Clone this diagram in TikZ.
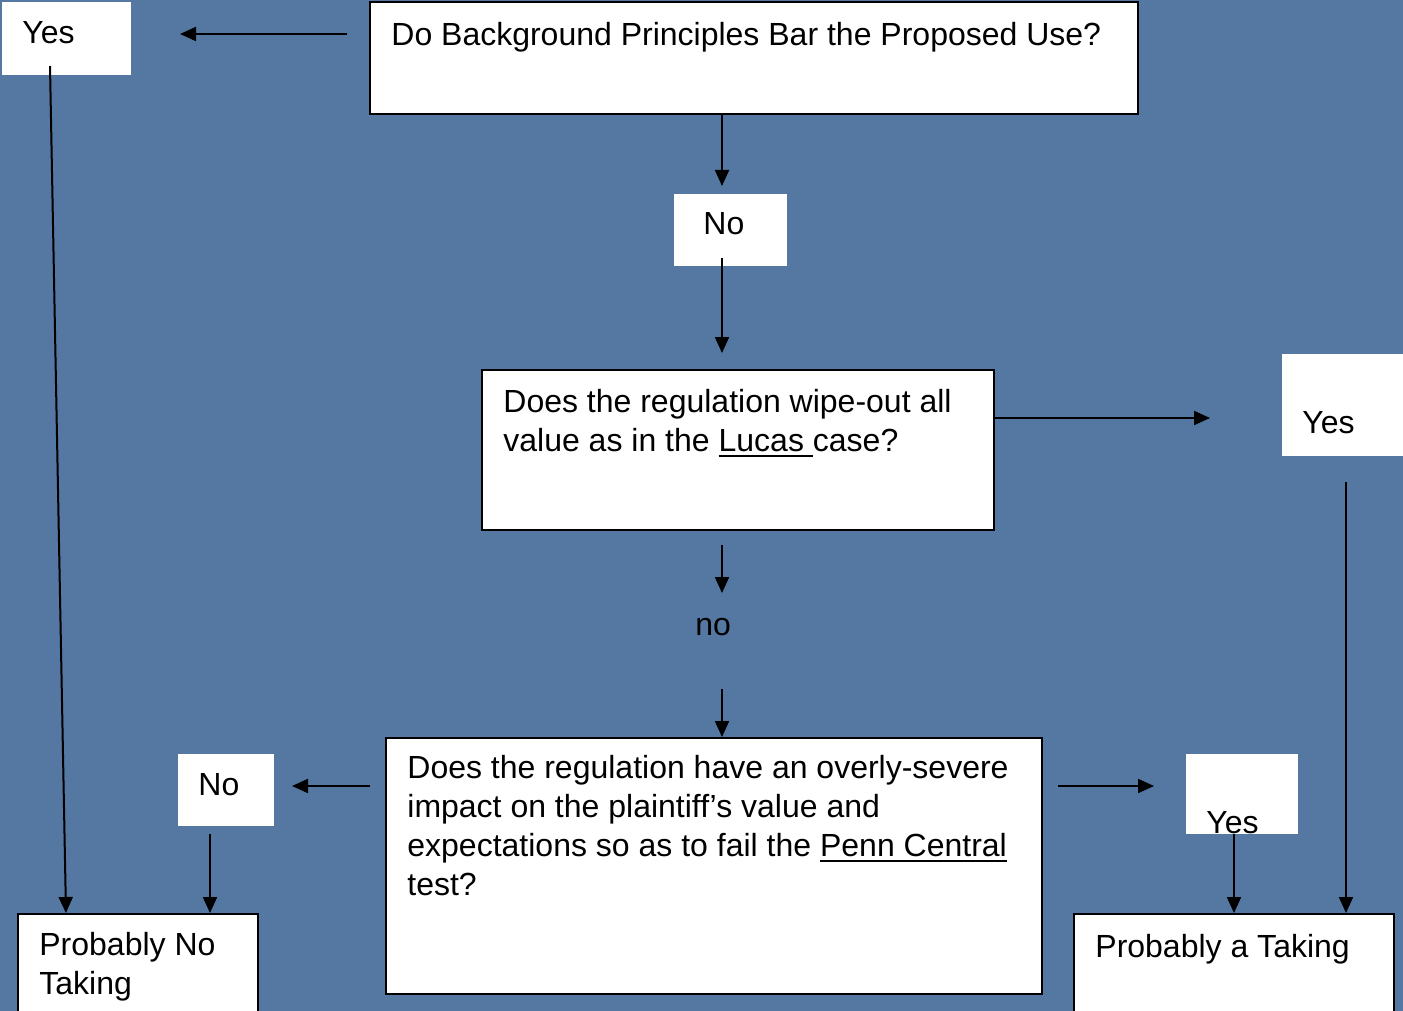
\documentclass[tikz,border=0pt]{standalone}
\usepackage{fontspec}
\setmainfont{Liberation Sans}
\usetikzlibrary{arrows.meta}
\definecolor{bgblue}{RGB}{84,120,162}
\newsavebox\myulbox
\newcommand\myul[1]{\sbox\myulbox{#1}\rlap{\rule[-3pt]{\wd\myulbox}{1pt}}\usebox\myulbox}
\tikzset{
  wh/.style 2 args={minimum width=#1*0.5pt, minimum height=#2*0.5pt},
  framedbox/.style={draw=black, line width=1pt, fill=white, inner sep=0pt},
  plainbox/.style={fill=white, inner sep=0pt},
  lbl/.style={anchor=north west, inner sep=0pt, align=left, font=\fontsize{16}{19.5}\selectfont},
  arr/.style={line width=1pt, -{Triangle[length=8pt,width=7pt]}}
}
\begin{document}
\begin{tikzpicture}[x=0.5pt,y=-0.5pt]
\useasboundingbox (0,0) rectangle (1403,1011);
\clip (0,0) rectangle (1403,1011);
\fill[bgblue] (0,0) rectangle (1403,1011);

% boxes
\node[plainbox, wh={129}{73}] (yes1) at (66.5,38.5) {};
\node[framedbox, wh={768}{112}] (b1) at (754,58) {};
\node[plainbox, wh={113}{72}] (no1) at (730.5,230) {};
\node[framedbox, wh={512}{160}] (b2) at (738,450) {};
\node[plainbox, wh={125}{102}] (yes2) at (1344.5,405) {};
\node[framedbox, wh={656}{256}] (b3) at (714,866) {};
\node[plainbox, wh={96}{72}] (no2) at (226,790) {};
\node[framedbox, wh={240}{98}] (pnt) at (138,963) {};
\node[plainbox, wh={112}{80}] (yes3) at (1242,794) {};
\node[framedbox, wh={320}{98}] (pat) at (1234,963) {};

% texts
\node[lbl] (tyes1) at (22,15.7) {\strut Yes};
\node[lbl] (t1) at (391,17.7) {\strut Do Background Principles Bar the Proposed Use?};
\node[lbl] (tno1) at (703,206.7) {\strut No};
\node[lbl] (t2) at (503,384.7) {\strut Does the regulation wipe-out all\\value as in the \myul{Lucas }case?};
\node[lbl] (tyes2) at (1302,405.7) {\strut Yes};
\node[lbl] (tno) at (695,607.7) {\strut no};
\node[lbl] (t3) at (407,750.7) {\strut Does the regulation have an overly-severe\\impact on the plaintiff’s value and\\expectations so as to fail the \myul{Penn Central}\\test?};
\node[lbl] (tno2) at (198,767.7) {\strut No};
\node[lbl] (tpnt) at (39,927.7) {\strut Probably No\\Taking};
\node[lbl] (tyes3) at (1206,806) {\strut Yes};
\node[lbl] (tpat) at (1095,929.4) {\strut Probably a Taking};

% connector end points
\coordinate (a1s) at (347,34);   \coordinate (a1e) at (180,34);
\coordinate (a2s) at (50,66);    \coordinate (a2e) at (66,913);
\coordinate (a3s) at (722,114);  \coordinate (a3e) at (722,186);
\coordinate (a4s) at (722,258);  \coordinate (a4e) at (722,353);
\coordinate (a5s) at (994,418);  \coordinate (a5e) at (1210,418);
\coordinate (a6s) at (1346,482); \coordinate (a6e) at (1346,913);
\coordinate (a7s) at (722,545);  \coordinate (a7e) at (722,593);
\coordinate (a8s) at (722,689);  \coordinate (a8e) at (722,737);
\coordinate (a9s) at (370,786);  \coordinate (a9e) at (292,786);
\coordinate (a10s) at (210,834); \coordinate (a10e) at (210,913);
\coordinate (a11s) at (1058,786);\coordinate (a11e) at (1154,786);
\coordinate (a12s) at (1234,834);\coordinate (a12e) at (1234,913);

% connectors
\draw[arr] (a1s) -- (a1e);
\draw[arr] (a2s) -- (a2e);
\draw[arr] (a3s) -- (a3e);
\draw[arr] (a4s) -- (a4e);
\draw[arr] (a5s) -- (a5e);
\draw[arr] (a6s) -- (a6e);
\draw[arr] (a7s) -- (a7e);
\draw[arr] (a8s) -- (a8e);
\draw[arr] (a9s) -- (a9e);
\draw[arr] (a10s) -- (a10e);
\draw[arr] (a11s) -- (a11e);
\draw[arr] (a12s) -- (a12e);
\end{tikzpicture}
\end{document}
